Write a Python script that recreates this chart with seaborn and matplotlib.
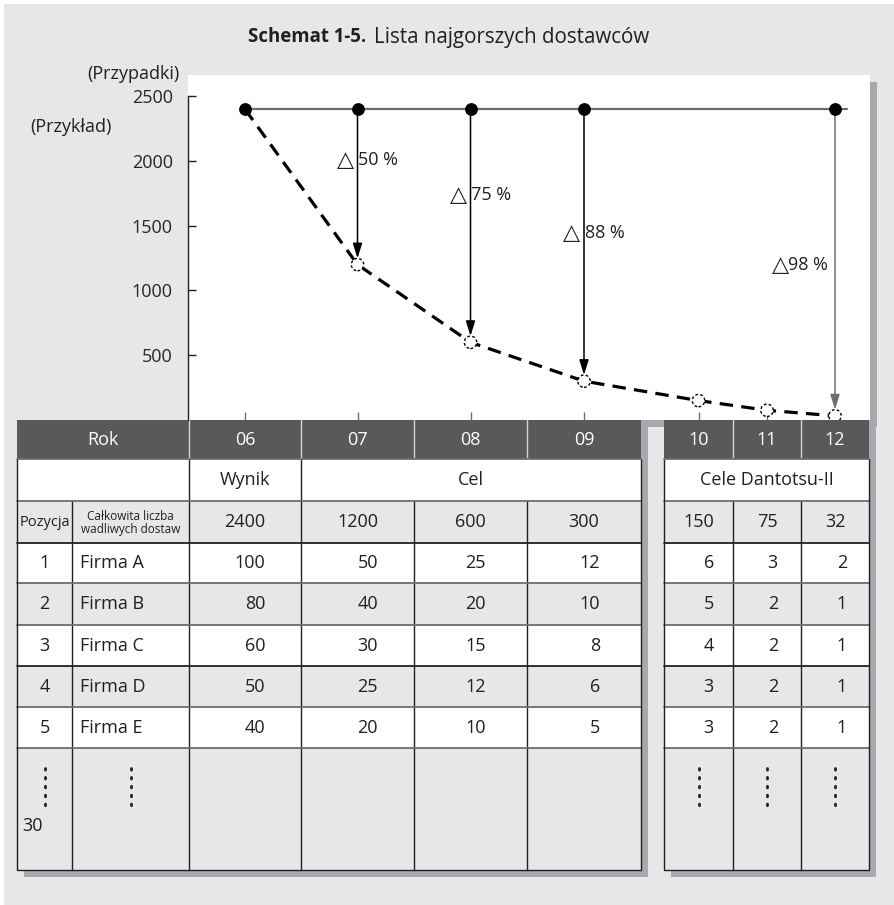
import numpy as np
import pandas as pd
import matplotlib
matplotlib.use("Agg")
import matplotlib.pyplot as plt
from matplotlib.patches import Rectangle
import seaborn as sns

# ---------------- data ----------------
years = ["06", "07", "08", "09", "10", "11", "12"]
defects_total = [2400, 1200, 600, 300, 150, 75, 32]
baseline = 2400
top_dot_years = ["06", "07", "08", "09", "12"]
arrow_years = ["07", "08", "09", "12"]
reduction_labels = ["50 %", "75 %", "88 %", "98 %"]
y_ticks = [500, 1000, 1500, 2000, 2500]

positions = ["1", "2", "3", "4", "5"]
companies = ["Firma A", "Firma B", "Firma C", "Firma D", "Firma E"]
company_values = [
    [100, 50, 25, 12, 6, 3, 2],
    [80, 40, 20, 10, 5, 2, 1],
    [60, 30, 15, 8, 4, 2, 1],
    [50, 25, 12, 6, 3, 2, 1],
    [40, 20, 10, 5, 3, 2, 1],
]
last_position = "30"

title_bold = "Schemat 1-5."
title_rest = "Lista najgorszych dostawców"

# ---------------- layout (pixels) ----------------
W, H = 894, 905
BG = "#e6e7e8"
SHADOW = "#a7a9ac"
HEADER = "#58595b"
LINE_GREY = "#6d6e71"
INK = "#231f20"
SH = 7  # drop-shadow offset

left_edges = [17, 72, 189, 301, 414, 527, 641]
right_edges = [664, 733, 801, 869]
row_edges = [420, 459, 501, 543, 583, 625, 666, 707, 748, 870]
row_fills = [HEADER, "white", BG, "white", BG, "white", BG, "white", BG]
hline_colors = {501: LINE_GREY, 543: INK, 583: LINE_GREY, 625: LINE_GREY,
                666: INK, 707: LINE_GREY, 748: LINE_GREY}
panel = (188, 75, 870, 420)   # chart panel x0, y0, x1, y1
label_y = [2007, 1737, 1443, 1195]
value_right_pad = [36, 36, 41, 41, 19, 23, 22]

year_cols = list(zip(left_edges[2:-1], left_edges[3:])) + list(zip(right_edges[:-1], right_edges[1:]))
xpos = {y: (a + b) / 2 for y, (a, b) in zip(years, year_cols)}

sns.set_theme(style="white")
plt.rcParams["font.family"] = ["Open Sans", "DejaVu Sans"]
plt.rcParams["text.color"] = INK

fig = plt.figure(figsize=(W / 100, H / 100), dpi=100)
fig.patch.set_facecolor("white")

# canvas in pixel coordinates for background, panel and table
cv = fig.add_axes([0, 0, 1, 1])
cv.set_xlim(0, W)
cv.set_ylim(H, 0)
cv.axis("off")


def rect(x0, y0, x1, y1, color, z=1):
    cv.add_patch(Rectangle((x0, y0), x1 - x0, y1 - y0, facecolor=color,
                           edgecolor="none", zorder=z))


rect(4, 4, W, H, BG, 0)
px0, py0, px1, py1 = panel
rect(px0 + SH, py0 + SH, px1 + SH, py1 + SH, SHADOW, 1)
rect(px0, py0, px1, py1, "white", 2)

# ---------------- table ----------------
def draw_table(edges, header_dividers, row2_dividers, body_dividers):
    x0, x1 = edges[0], edges[-1]
    rect(x0 + SH, row_edges[0] + SH, x1 + SH, row_edges[-1] + SH, SHADOW, 3)
    for (ya, yb), fc in zip(zip(row_edges[:-1], row_edges[1:]), row_fills):
        rect(x0, ya, x1, yb, fc, 4)
    for x in header_dividers:
        cv.plot([x, x], [row_edges[0], row_edges[1]], color="#d1d3d4", lw=1, zorder=5)
    for x in row2_dividers:
        cv.plot([x, x], [row_edges[1], row_edges[2]], color=INK, lw=1, zorder=5)
    for x in body_dividers:
        cv.plot([x, x], [row_edges[2], row_edges[-1]], color=INK, lw=1, zorder=5)
    for y, c in hline_colors.items():
        cv.plot([x0, x1], [y, y], color=c, lw=1.3, zorder=6)
    cv.plot([x0, x0, x1, x1], [row_edges[1], row_edges[-1], row_edges[-1], row_edges[1]],
            color=INK, lw=1, zorder=6)
    cv.plot([x0, x1], [row_edges[1], row_edges[1]], color=LINE_GREY, lw=1.3, zorder=6)


draw_table(left_edges, left_edges[2:-1], [left_edges[2], left_edges[3]], left_edges[1:-1])
draw_table(right_edges, right_edges[1:-1], [], right_edges[1:-1])

FS = 13
TRI_FAMILY = ["DejaVu Sans"]
TRI_FS = 16
ymid = [(a + b) / 2 for a, b in zip(row_edges[:-1], row_edges[1:])]

# header row
cv.text((left_edges[0] + left_edges[2]) / 2, ymid[0], "Rok", color="white",
        ha="center", va="center", fontsize=FS, zorder=7)
for y in years:
    cv.text(xpos[y], ymid[0], y, color="white", ha="center", va="center", fontsize=FS, zorder=7)

# second row: group labels
cv.text(xpos["06"], ymid[1], "Wynik", ha="center", va="center", fontsize=FS, zorder=7)
cv.text((left_edges[3] + left_edges[-1]) / 2, ymid[1], "Cel", ha="center", va="center",
        fontsize=FS, zorder=7)
cv.text((right_edges[0] + right_edges[-1]) / 2, ymid[1], "Cele Dantotsu-II", ha="center",
        va="center", fontsize=FS, zorder=7)

# totals row
c1 = (left_edges[0] + left_edges[1]) / 2
c2 = (left_edges[1] + left_edges[2]) / 2
cv.text(c1, ymid[2], "Pozycja", ha="center", va="center", fontsize=10.5, zorder=7)
cv.text(c2, ymid[2] + 1, "Całkowita liczba\nwadliwych dostaw", ha="center", va="center",
        fontsize=8.5, linespacing=0.95, zorder=7)
for y, v in zip(years, defects_total):
    cv.text(xpos[y], ymid[2], str(v), ha="center", va="center", fontsize=FS, zorder=7)

# company rows
for i, (p, name, vals) in enumerate(zip(positions, companies, company_values)):
    yc = ymid[3 + i]
    cv.text(c1, yc, p, ha="center", va="center", fontsize=FS, zorder=7)
    cv.text(left_edges[1] + 8, yc, name, ha="left", va="center", fontsize=FS, zorder=7)
    for (a, b), v, pad in zip(year_cols, vals, value_right_pad):
        cv.text(b - pad, yc, str(v), ha="right", va="center", fontsize=FS, zorder=7)

# continuation row
for x in [c1, c2] + [xpos[y] for y in years[4:]]:
    cv.plot([x, x], [768, 806], color=INK, lw=2, ls=(0, (0.6, 2.6)),
            dash_capstyle="round", zorder=7)
cv.text(left_edges[0] + 5, 826, last_position, ha="left", va="center", fontsize=FS, zorder=7)

# axis captions and title
cv.text(179, 74, "(Przypadki)", ha="right", va="center", fontsize=FS, zorder=7)
cv.text(112, 127, "(Przykład)", ha="right", va="center", fontsize=FS, zorder=7)
tb = cv.text(0, 37, title_bold, ha="left", va="center", fontsize=13.4, fontweight="bold", zorder=7)
tr = cv.text(0, 37, title_rest, ha="left", va="center", fontsize=14.8, zorder=7)
fig.canvas.draw()
rend = fig.canvas.get_renderer()
inv = cv.transData.inverted()
def width_px(t):
    bb = t.get_window_extent(renderer=rend)
    return inv.transform((bb.x1, 0))[0] - inv.transform((bb.x0, 0))[0]
wb, wr, gap = width_px(tb), width_px(tr), 8
start = 449 - (wb + gap + wr) / 2
tb.set_x(start)
tr.set_x(start + wb + gap)

# ---------------- chart ----------------
ax = fig.add_axes([px0 / W, 1 - py1 / H, (px1 - px0) / W, (py1 - py0) / H])
ax.set_facecolor("none")
ax.set_xlim(px0, px1)
ax.set_ylim(0, 2664)

df = pd.DataFrame({"year": years, "x": [xpos[y] for y in years], "defects": defects_total})
top = pd.DataFrame({"x": [xpos[y] for y in top_dot_years], "level": baseline})

# baseline and its markers
ax.plot([xpos["06"], xpos["12"] + 12], [baseline, baseline], color=LINE_GREY, lw=1.6, zorder=2)

# target path
sns.lineplot(data=df, x="x", y="defects", ax=ax, color="black", lw=2.3,
             linestyle=(0, (4.2, 2.6)), zorder=3)

# arrows from baseline down to each target
for yr in arrow_years:
    val = defects_total[years.index(yr)]
    col = LINE_GREY if yr == "12" else "black"
    ax.annotate("", xy=(xpos[yr], val), xytext=(xpos[yr], baseline),
                arrowprops=dict(arrowstyle="-|>,head_length=0.9,head_width=0.28",
                                mutation_scale=10, color=col, lw=1.1,
                                shrinkA=0, shrinkB=4.5), zorder=4)

sns.scatterplot(data=df.iloc[1:], x="x", y="defects", ax=ax, s=80, color="white",
                edgecolor="black", linewidth=1, linestyle=(0, (2, 1.6)), zorder=5, legend=False)
sns.scatterplot(data=top, x="x", y="level", ax=ax, s=85, color="black",
                edgecolor="black", linewidth=0, zorder=5, legend=False)

# reduction labels
for yr, lab, ly in zip(arrow_years, reduction_labels, label_y):
    x = xpos[yr]
    if yr == arrow_years[-1]:
        ax.annotate("\u25b3", (x, ly), xytext=(-33, 0), textcoords="offset points",
                    ha="right", va="center", fontsize=TRI_FS, family=TRI_FAMILY, zorder=6)
        ax.annotate(lab, (x, ly), xytext=(-5, 0), textcoords="offset points",
                    ha="right", va="center", fontsize=FS, zorder=6)
    else:
        ax.annotate("\u25b3", (x, ly), xytext=(-2.5, 0), textcoords="offset points",
                    ha="right", va="center", fontsize=TRI_FS, family=TRI_FAMILY, zorder=6)
        ax.annotate(lab, (x, ly), xytext=(0.5, 0), textcoords="offset points",
                    ha="left", va="center", fontsize=FS, zorder=6)

ax.set_xlabel("")
ax.set_ylabel("")
ax.set_yticks(y_ticks)
ax.set_yticklabels([str(t) for t in y_ticks])
ax.set_xticks([xpos[y] for y in years])
ax.tick_params(axis="y", direction="in", length=6, width=1, color=INK, labelsize=FS,
               pad=11, left=True)
ax.tick_params(axis="x", direction="in", length=6, width=1, color=LINE_GREY,
               labelbottom=False, bottom=True)
for s in ["top", "right", "bottom"]:
    ax.spines[s].set_visible(False)
ax.spines["left"].set_color(INK)
ax.spines["left"].set_linewidth(1)
ax.spines["left"].set_bounds(0, 2500)

fig.savefig("out.png", dpi=100, facecolor=fig.get_facecolor())
